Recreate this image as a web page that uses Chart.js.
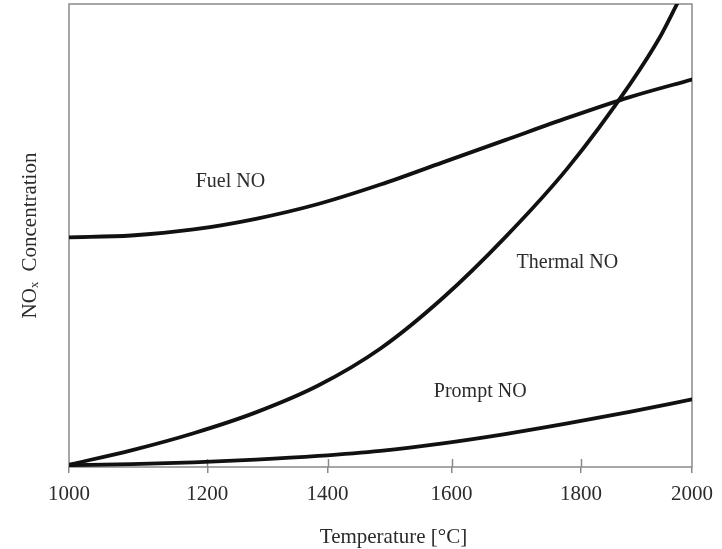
<!DOCTYPE html>
<html>
<head>
<meta charset="utf-8">
<script src="https://cdn.jsdelivr.net/npm/chart.js@4"></script>
<style>
  html, body { margin: 0; padding: 0; background: #fff; }
  #wrap { width: 722px; height: 549px; position: relative; }
</style>
</head>
<body>
<div id="wrap"><canvas id="c" width="722" height="549"></canvas></div>
<script>
// ---- data (x positions on the figure's temperature axis) ----
const temps        = [1000, 1100, 1200, 1300, 1400, 1500, 1600, 1700, 1800, 1900, 2000];
const fuelNO       = [49.6, 50.0, 51.3, 53.6, 56.8, 61.0, 65.8, 70.6, 75.4, 79.9, 83.7];
const promptNO     = [0.4, 0.6, 1.0, 1.6, 2.4, 3.5, 5.1, 7.1, 9.4, 11.9, 14.6];
const thermalTemps = [1000, 1100, 1200, 1300, 1400, 1500, 1600, 1700, 1800, 1900, 1950, 1976];
const thermalNO    = [0.5, 3.6, 7.3, 11.8, 17.6, 25.6, 36.5, 49.6, 64.5, 82.6, 93.2, 100];

// tick marks of the figure's axis (as drawn, not evenly spaced)
const tickPositions = [1000, 1222, 1415, 1614, 1822, 2000];
const tickLabels    = ['1000', '1200', '1400', '1600', '1800', '2000'];

// curve labels [text, x, y]
const curveLabels = [
  ['Fuel NO', 1259, 61.7],
  ['Thermal NO', 1800, 44.2],
  ['Prompt NO', 1660, 16.3]
];
const xTitle = 'Temperature [°C]';
const yTitle = 'NOₓ  Concentration';

const serif = "'Liberation Serif', 'Times New Roman', serif";
const textColor = '#2b2b2b';
const axisColor = '#8a8a8a';

function toPts(xs, ys) { return xs.map((x, i) => ({ x: x, y: ys[i] })); }

const lineStyle = {
  borderColor: '#111',
  borderWidth: 3.8,
  pointRadius: 0,
  fill: false,
  cubicInterpolationMode: 'monotone',
  borderCapStyle: 'round',
  borderJoinStyle: 'round'
};

const decor = {
  id: 'decor',
  beforeDatasetsDraw(chart) {
    const { ctx, chartArea: a } = chart;
    ctx.save();
    ctx.strokeStyle = axisColor;
    ctx.lineWidth = 1.5;
    ctx.strokeRect(a.left, a.top, a.right - a.left, a.bottom - a.top);
    // inner tick marks
    const xs = chart.scales.x;
    ctx.beginPath();
    xs.ticks.forEach((t, i) => {
      if (i === 0 || i === xs.ticks.length - 1) return;
      const px = Math.round(xs.getPixelForValue(t.value)) + 0.5;
      ctx.moveTo(px, a.bottom);
      ctx.lineTo(px, a.bottom - 8);
    });
    ctx.stroke();
    ctx.restore();
  },
  afterDatasetsDraw(chart) {
    const { ctx, chartArea: a, scales: { x, y } } = chart;
    ctx.save();
    ctx.fillStyle = textColor;
    ctx.font = '20px ' + serif;
    ctx.textAlign = 'center';
    ctx.textBaseline = 'middle';
    curveLabels.forEach(([t, lx, ly]) => {
      ctx.fillText(t, x.getPixelForValue(lx), y.getPixelForValue(ly));
    });
    // x axis title
    ctx.font = '21px ' + serif;
    ctx.fillText(xTitle, (a.left + a.right) / 2 + 13, a.bottom + 70);
    ctx.restore();
  }
};

new Chart(document.getElementById('c'), {
  type: 'line',
  data: {
    datasets: [
      Object.assign({ label: 'Fuel NO', data: toPts(temps, fuelNO) }, lineStyle),
      Object.assign({ label: 'Thermal NO', data: toPts(thermalTemps, thermalNO) }, lineStyle),
      Object.assign({ label: 'Prompt NO', data: toPts(temps, promptNO) }, lineStyle)
    ]
  },
  options: {
    responsive: false,
    animation: false,
    events: [],
    layout: { autoPadding: false, padding: { top: 4, right: 28, left: 0, bottom: 0 } },
    plugins: { legend: { display: false }, tooltip: { enabled: false } },
    scales: {
      x: {
        type: 'linear',
        min: 1000, max: 2000,
        afterBuildTicks(axis) { axis.ticks = tickPositions.map(v => ({ value: v })); },
        afterFit(axis) { axis.height = 82; },
        ticks: {
          autoSkip: false,
          maxRotation: 0,
          padding: 9,
          color: textColor,
          font: { family: serif, size: 21 },
          callback(v, i) { return tickLabels[i]; }
        },
        grid: { drawOnChartArea: false, drawTicks: true, tickLength: 6, color: axisColor, lineWidth: 1.5 },
        border: { display: false },
        title: { display: false }
      },
      y: {
        min: 0, max: 100,
        afterFit(axis) { axis.width = 69; },
        ticks: { display: false },
        grid: { display: false, drawTicks: false },
        border: { display: false },
        title: {
          display: true,
          text: yTitle,
          color: textColor,
          font: { family: serif, size: 21 },
          padding: { top: 18, bottom: 0 }
        }
      }
    }
  },
  plugins: [decor]
});
</script>
</body>
</html>
